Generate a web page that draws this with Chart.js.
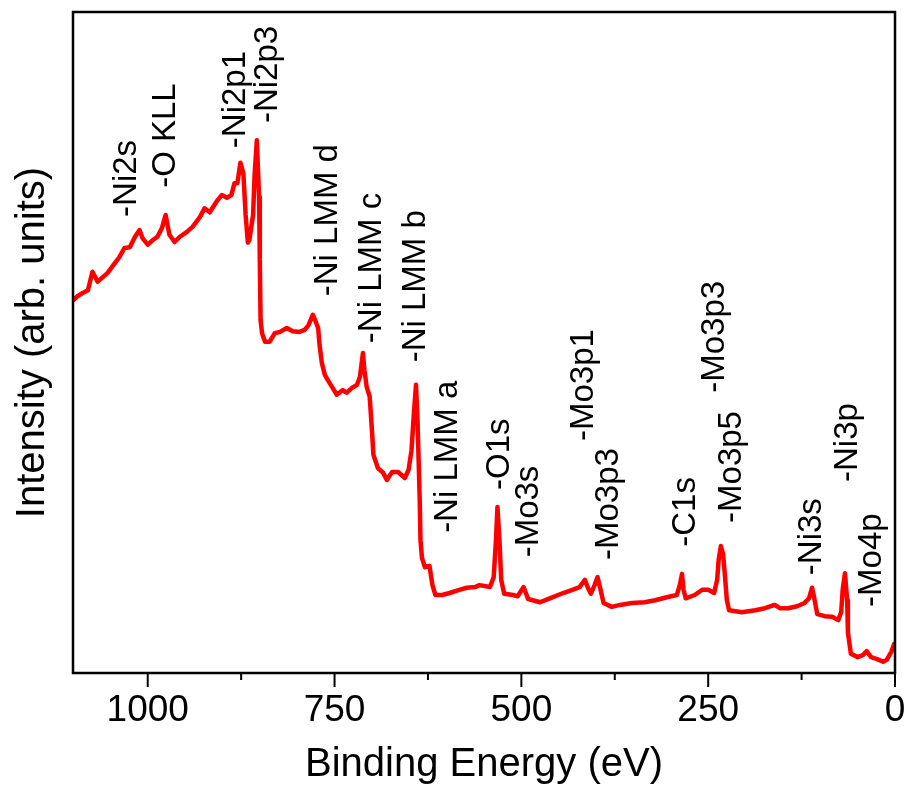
<!DOCTYPE html>
<html>
<head>
<meta charset="utf-8">
<script src="https://cdn.jsdelivr.net/npm/chart.js@4.4.1/dist/chart.umd.min.js"></script>
<style>
  html, body { margin: 0; padding: 0; background: #fff; }
  canvas { display: block; }
</style>
</head>
<body>
<canvas id="xpsChart" width="910" height="792"></canvas>
<script>
// XPS survey spectrum (binding energy in eV, intensity in arb. units)
const energy = [1100,1094,1087,1080,1074,1067,1060,1054,1048,1044,1038,1031,1024,1017,1011,1007,1000,993,987,981,
  976,971,964,957,948,940,930,924,917,908,901,894,888,884,880,876,872,869,866,864,
  859,857,854,851,850,849,847,843,837,830,823,814,806,797,790,785,779,775,772,770,
  767,763,759,754,747,739,734,727,720,716,712,710,707,703,700,698,692,685,680,673,
  665,656,651,647,644,641,639,636,635,633,629,623,619,615,606,596,582,573,562,556,
  542,537,534,532,529,527,523,511,505,497,491,475,462,444,431,422,415,411,407,402,
  398,394,390,379,368,352,335,321,304,292,288,285,283,280,268,258,250,242,238,236,
  233,230,228,225,222,205,187,174,161,154,143,131,121,115,111,108,104,94,84,76,
  72,70,67,64,63,59,50,43,38,32,24,16,11,5,1];

const intensity = [56.4,57.0,57.5,57.9,60.7,59.2,59.9,60.5,61.4,62.0,62.9,64.3,64.4,66.0,67.0,65.8,64.8,65.5,66.0,67.3,
  69.3,66.3,65.2,66.0,66.7,67.5,69.0,70.3,69.7,71.3,72.3,71.9,72.3,74.1,74.1,77.2,75.6,69.3,65.1,65.5,
  69.3,75.3,80.6,72.0,62.5,53.4,51.4,50.1,50.1,51.4,51.6,52.2,51.7,51.6,51.9,52.6,54.2,53.1,52.2,49.6,
  46.9,45.1,44.3,43.4,42.1,42.8,42.4,43.1,43.6,44.8,48.4,45.8,43.3,41.8,36.8,33.0,31.0,30.3,29.2,30.4,
  30.4,29.5,30.7,33.7,39.0,43.6,38.3,26.2,20.1,17.4,16.0,16.2,13.3,11.8,11.8,12.1,12.6,12.9,13.0,13.3,
  13.0,14.5,20.1,25.1,19.4,14.1,12.0,11.8,11.6,13.0,11.2,10.7,11.3,12.1,12.6,13.0,14.1,12.9,12.0,13.3,
  14.5,12.6,10.6,10.0,10.3,10.6,10.7,11.0,11.5,11.8,13.3,15.0,12.6,11.3,11.8,12.6,12.6,12.1,14.1,17.1,
  19.2,17.9,15.3,11.0,9.5,9.2,9.5,9.8,10.3,9.8,9.8,10.1,10.6,11.3,12.9,11.3,8.9,8.6,8.5,8.0,
  9.2,12.6,15.1,11.0,6.1,2.9,2.4,2.7,3.3,2.4,2.1,1.7,2.0,3.2,4.4];

// peak assignments: text, energy of the label, intensity where the text starts
const peakLabels = ['-Ni2s','-O KLL','-Ni2p1','-Ni2p3','-Ni LMM d','-Ni LMM c','-Ni LMM b','-Ni LMM a',
  '-O1s','-Mo3s','-Mo3p1','-Mo3p3','-C1s','-Mo3p3','-Mo3p5','-Ni3s','-Ni3p','-Mo4p'];
const labelEnergy = [1032,979,885,843,763,703,645,602,533,494,420,387,284,245,222,115,66,35];
const labelLevel = [69.0,73.4,79.4,83.2,57.0,49.9,47.0,21.2,27.7,17.5,35.1,17.1,19.1,42.4,22.7,14.8,28.9,10.0];

const xTicks = [0,125,250,375,500,625,750,875,1000];

const FONT = '"Liberation Sans", Arial, Helvetica, sans-serif';

// 边框、刻度线和峰标注
const annotatePlugin = {
  id: 'annotate',
  afterDatasetsDraw(chart) {
    const { ctx, chartArea: a, scales: { x, y } } = chart;
    ctx.save();

    // peak labels, rotated
    const size = 33;
    ctx.fillStyle = '#000';
    ctx.font = size + 'px ' + FONT;
    ctx.textAlign = 'left';
    ctx.textBaseline = 'alphabetic';
    peakLabels.forEach((txt, i) => {
      const px = x.getPixelForValue(labelEnergy[i]);
      const py = y.getPixelForValue(labelLevel[i]);
      ctx.save();
      ctx.translate(px + size * 0.358, py);
      ctx.rotate(-Math.PI / 2);
      ctx.fillText(txt, 0, 0);
      ctx.restore();
    });

    // frame
    ctx.strokeStyle = '#000';
    ctx.lineWidth = 2.5;
    ctx.strokeRect(a.left, a.top, a.right - a.left, a.bottom - a.top);

    // x tick marks, long on labelled values
    ctx.lineWidth = 2;
    x.ticks.forEach(t => {
      const px = x.getPixelForValue(t.value);
      const len = t.value % 250 === 0 ? 14 : 7;
      ctx.beginPath();
      ctx.moveTo(px, a.bottom);
      ctx.lineTo(px, a.bottom + len);
      ctx.stroke();
    });
    ctx.restore();
  }
};

const chart = new Chart(document.getElementById('xpsChart'), {
  type: 'line',
  data: {
    datasets: [{
      data: energy.map((e, i) => ({ x: e, y: intensity[i] })),
      borderColor: '#ff0000',
      borderWidth: 4.5,
      borderJoinStyle: 'round',
      borderCapStyle: 'round',
      pointRadius: 0,
      tension: 0,
      fill: false
    }]
  },
  options: {
    responsive: false,
    animation: false,
    layout: { padding: { top: 12, right: 15, left: 0, bottom: 0 } },
    plugins: {
      legend: { display: false },
      tooltip: { enabled: false }
    },
    scales: {
      x: {
        type: 'linear',
        reverse: true,
        min: 0,
        max: 1100,
        afterBuildTicks: s => { s.ticks = xTicks.map(v => ({ value: v })); },
        afterFit: s => { s.height = 119; },
        grid: { display: false, drawTicks: false },
        border: { display: false },
        ticks: {
          autoSkip: false,
          maxRotation: 0,
          padding: 16,
          color: '#000',
          font: { family: FONT, size: 37 },
          callback: v => (v % 250 === 0 ? String(v) : '')
        },
        title: {
          display: true,
          text: 'Binding Energy (eV)',
          color: '#000',
          font: { family: FONT, size: 40 },
          padding: { top: 0, bottom: 3 }
        }
      },
      y: {
        min: 0,
        max: 100,
        afterFit: s => { s.width = 73; },
        grid: { display: false, drawTicks: false },
        border: { display: false },
        ticks: { display: false },
        title: {
          display: true,
          text: 'Intensity (arb. units)',
          color: '#000',
          font: { family: FONT, size: 40 },
          padding: { top: 9, bottom: 0 }
        }
      }
    }
  },
  plugins: [annotatePlugin]
});
</script>
</body>
</html>
